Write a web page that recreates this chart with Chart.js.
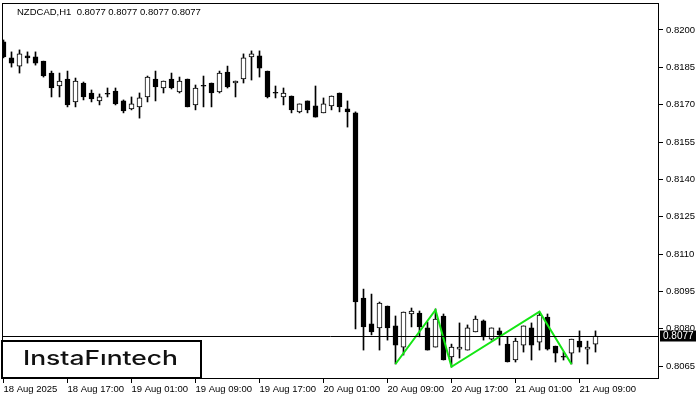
<!DOCTYPE html>
<html lang="en">
<head>
  <meta charset="UTF-8" />
  <title>NZDCAD H1</title>
  <script src="https://cdn.jsdelivr.net/npm/chart.js"></script>
  <style>
    html, body { margin: 0; padding: 0; background: #fff; }
    #wrap { width: 700px; height: 400px; position: relative; }
  </style>
</head>
<body>
  <div id="wrap"><canvas id="chart"></canvas></div>

  <script>
    // hourly candles, 18 Aug 2025 .. 21 Aug 2025
    const open = [0.81952,0.81888,0.81855,0.81896,0.81892,0.81875,0.81827,0.81775,0.81803,0.81711,
      0.81787,0.81747,0.81715,0.81743,0.81755,0.81715,0.81683,0.81691,0.81731,0.81803,
      0.81767,0.81803,0.81751,0.81803,0.81699,0.81775,0.81787,0.81751,0.81831,0.81787,
      0.81803,0.81892,0.81896,0.81835,0.81747,0.81731,0.81735,0.81671,0.81715,0.81695,
      0.81667,0.81695,0.81747,0.81683,0.81667,0.80923,0.80819,0.80803,0.80891,0.80811,
      0.80726,0.80859,0.80863,0.80803,0.80726,0.80851,0.80686,0.80718,0.80714,0.80787,
      0.80831,0.80758,0.80791,0.80738,0.80674,0.80734,0.80803,0.80746,0.80847,0.80730,
      0.80686,0.80702,0.80750,0.80718,0.80738];
    const high = [0.81960,0.81912,0.81920,0.81912,0.81912,0.81875,0.81835,0.81827,0.81835,0.81807,
      0.81791,0.81759,0.81743,0.81767,0.81767,0.81719,0.81731,0.81747,0.81815,0.81835,
      0.81795,0.81827,0.81811,0.81803,0.81779,0.81815,0.81787,0.81835,0.81855,0.81795,
      0.81904,0.81916,0.81916,0.81835,0.81775,0.81767,0.81735,0.81703,0.81715,0.81775,
      0.81727,0.81735,0.81747,0.81715,0.81671,0.80959,0.80939,0.80907,0.80891,0.80851,
      0.80867,0.80883,0.80871,0.80827,0.80879,0.80859,0.80738,0.80823,0.80815,0.80851,
      0.80835,0.80803,0.80803,0.80767,0.80762,0.80811,0.80823,0.80867,0.80859,0.80730,
      0.80706,0.80758,0.80791,0.80750,0.80791];
    const low = [0.81888,0.81851,0.81827,0.81867,0.81859,0.81811,0.81731,0.81731,0.81691,0.81691,
      0.81719,0.81711,0.81699,0.81731,0.81699,0.81667,0.81679,0.81646,0.81711,0.81715,
      0.81747,0.81763,0.81747,0.81691,0.81679,0.81691,0.81691,0.81747,0.81767,0.81731,
      0.81787,0.81799,0.81811,0.81727,0.81727,0.81699,0.81667,0.81667,0.81667,0.81650,
      0.81667,0.81679,0.81671,0.81610,0.80799,0.80714,0.80775,0.80714,0.80754,0.80658,
      0.80694,0.80807,0.80767,0.80714,0.80726,0.80674,0.80646,0.80682,0.80714,0.80787,
      0.80754,0.80754,0.80734,0.80666,0.80666,0.80706,0.80674,0.80714,0.80714,0.80666,
      0.80674,0.80658,0.80706,0.80658,0.80706];
    const close = [0.81892,0.81867,0.81904,0.81888,0.81867,0.81815,0.81767,0.81795,0.81699,0.81795,
      0.81731,0.81723,0.81731,0.81742,0.81703,0.81675,0.81703,0.81727,0.81811,0.81771,
      0.81795,0.81767,0.81795,0.81691,0.81767,0.81774,0.81747,0.81827,0.81771,0.81795,
      0.81888,0.81904,0.81847,0.81731,0.81746,0.81747,0.81679,0.81703,0.81679,0.81650,
      0.81703,0.81735,0.81691,0.81671,0.80907,0.80807,0.80787,0.80903,0.80803,0.80734,
      0.80867,0.80871,0.80807,0.80714,0.80839,0.80674,0.80726,0.80726,0.80803,0.80839,
      0.80767,0.80803,0.80775,0.80666,0.80750,0.80811,0.80734,0.80855,0.80718,0.80702,
      0.80685,0.80758,0.80726,0.80726,0.80770];

    const tickIdx = [0, 8, 16, 24, 32, 40, 48, 56, 64, 72];
    const tickLabels = ['18 Aug 2025', '18 Aug 17:00', '19 Aug 01:00', '19 Aug 09:00', '19 Aug 17:00',
      '20 Aug 01:00', '20 Aug 09:00', '20 Aug 17:00', '21 Aug 01:00', '21 Aug 09:00'];
    const priceTicks = [0.8065, 0.8080, 0.8095, 0.8110, 0.8125, 0.8140, 0.8155, 0.8170, 0.8185, 0.8200];

    // triple bottom pattern
    const patternIdx = [49, 54, 56, 67, 71];
    const patternPrice = [0.80658, 0.80875, 0.80647, 0.80868, 0.80657];

    const lastPrice = 0.8077;
    const titleText = 'NZDCAD,H1  0.8077 0.8077 0.8077 0.8077';
    const FONT = '"Liberation Sans", Arial, sans-serif';

    const wicks = open.map((o, i) => ({ x: i, y: [low[i], high[i]] }));
    const bodies = open.map((o, i) => ({ x: i, y: [o, close[i]] }));
    const bodyFill = open.map((o, i) => close[i] >= o ? '#ffffff' : '#000000');
    const pattern = patternIdx.map((x, i) => ({ x: x, y: patternPrice[i] }));

    const overlay = {
      id: 'overlay',
      afterDatasetsDraw(chart) {
        const { ctx, chartArea: a, scales: { y } } = chart;
        const py = Math.round(y.getPixelForValue(lastPrice)) + 0.5;
        ctx.save();
        ctx.strokeStyle = '#000';
        ctx.lineWidth = 1;
        ctx.beginPath();
        ctx.moveTo(a.left, py);
        ctx.lineTo(a.right, py);
        ctx.stroke();
        ctx.restore();
      },
      afterDraw(chart) {
        const { ctx, chartArea: a, scales: { y } } = chart;
        ctx.save();
        // frame
        ctx.strokeStyle = '#000';
        ctx.lineWidth = 1;
        ctx.strokeRect(Math.round(a.left) + 0.5, Math.round(a.top) + 0.5,
          Math.round(a.right) - Math.round(a.left) - 1, Math.round(a.bottom) - Math.round(a.top) - 1);

        // title
        ctx.fillStyle = '#000';
        ctx.font = '9.5px ' + FONT;
        ctx.textBaseline = 'middle';
        ctx.textAlign = 'left';
        ctx.fillText(titleText, 17, 12.5);

        // current price box
        const py = Math.round(y.getPixelForValue(lastPrice)) + 0.5;
        const bx = Math.round(a.right) + 1;
        ctx.fillStyle = '#000';
        ctx.fillRect(bx, py - 6, 36, 11);
        ctx.fillStyle = '#fff';
        ctx.font = '10px ' + FONT;
        ctx.fillText(lastPrice.toFixed(4), bx + 3, py);

        // logo
        ctx.fillStyle = '#fff';
        ctx.fillRect(2, 340, 199, 38);
        ctx.lineWidth = 2;
        ctx.strokeRect(2, 341, 199, 37);
        ctx.fillStyle = '#111';
        ctx.font = '500 20px Inter, "Noto Sans", sans-serif';
        ctx.textBaseline = 'alphabetic';
        const txt = 'InstaF\u0131ntech';
        const w = ctx.measureText(txt).width;
        ctx.translate(23, 364.5);
        ctx.scale(155 / w, 1);
        ctx.fillText(txt, 0, 0);
        ctx.restore();
      }
    };

    const ctx = document.getElementById('chart').getContext('2d');
    const chart = new Chart(ctx, {
      type: 'bar',
      data: {
        datasets: [
          {
            type: 'line',
            data: pattern,
            borderColor: '#14e614',
            borderWidth: 2,
            pointRadius: 0,
            tension: 0,
            order: 0
          },
          {
            data: bodies,
            backgroundColor: bodyFill,
            borderColor: '#000',
            borderWidth: 1,
            borderSkipped: false,
            barThickness: 5,
            minBarLength: 1,
            grouped: false,
            order: 1
          },
          {
            data: wicks,
            backgroundColor: '#000',
            borderWidth: 0,
            barThickness: 1,
            grouped: false,
            order: 2
          }
        ]
      },
      options: {
        responsive: true,
        maintainAspectRatio: false,
        animation: false,
        layout: { padding: { top: 3, left: 2, right: 0, bottom: 0 } },
        plugins: {
          legend: { display: false },
          tooltip: { enabled: false }
        },
        scales: {
          x: {
            type: 'linear',
            offset: false,
            min: -0.1875,
            max: 81.9375,
            border: { display: false },
            grid: { offset: false, drawOnChartArea: false, drawTicks: true, tickLength: 4, color: '#000' },
            ticks: {
              autoSkip: false,
              maxRotation: 0,
              align: 'start',
              padding: 1,
              color: '#000',
              font: { family: FONT, size: 9.5 },
              callback: v => tickLabels[tickIdx.indexOf(v)]
            },
            afterBuildTicks: s => { s.ticks = tickIdx.map(v => ({ value: v })); },
            afterFit: s => { s.height = 21; s.paddingLeft = 0; s.paddingRight = 0; }
          },
          y: {
            position: 'right',
            min: 0.8059778,
            max: 0.8210848,
            border: { display: false },
            grid: { drawOnChartArea: false, drawTicks: true, tickLength: 4, color: '#000' },
            ticks: {
              padding: 3,
              color: '#000',
              font: { family: FONT, size: 9.5 },
              callback: v => v.toFixed(4)
            },
            afterBuildTicks: s => { s.ticks = priceTicks.map(v => ({ value: v })); },
            afterFit: s => { s.width = 41; s.paddingTop = 0; s.paddingBottom = 0; }
          }
        }
      },
      plugins: [overlay]
    });
  </script>
</body>
</html>
